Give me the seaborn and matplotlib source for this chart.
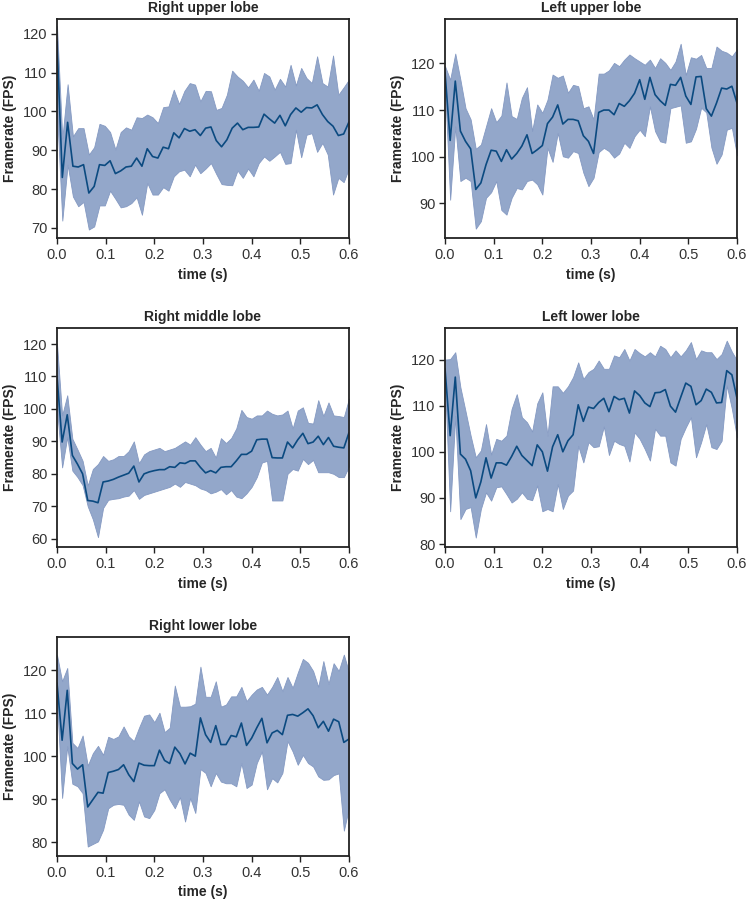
import matplotlib
matplotlib.use("Agg")
import matplotlib.pyplot as plt
import numpy as np
import pandas as pd
import seaborn as sns

sns.set_style("ticks")
plt.rcParams["font.family"] = ["Liberation Sans", "DejaVu Sans"]

titles = ["Right upper lobe", "Left upper lobe", "Right middle lobe",
          "Left lower lobe", "Right lower lobe"]

# Right upper lobe: mean framerate and band limits
rul_mean = [118, 83.0, 97.2, 85.9, 85.7, 86.3, 79.0, 80.7, 86.3, 86.1, 87.3, 84.0, 84.7, 85.7,
            85.9, 88.0, 85.9, 90.4, 88.4, 88.0, 90.8, 90.4, 94.5, 93.2, 95.6, 94.9, 95.3,
            93.8, 95.7, 96.0, 92.5, 90.9, 92.7, 95.7, 97.0, 95.3, 95.9, 95.9, 96.0, 99.3, 98.1,
            97.0, 99.0, 96.3, 99.2, 100.9, 99.8, 101.0, 100.9, 101.7, 99.2, 97.4, 96.2, 93.8,
            94.2, 97.3]
rul_hi = [122, 93.0, 107.0, 93.6, 95.7, 95.7, 88.9, 90.8, 96.8, 96.3, 94.7, 90.2, 94.7, 95.9,
          95.3, 98.5, 98.3, 99.2, 98.5, 97.0, 101.1, 101.3, 105.6, 101.9, 105.3, 107.3, 106.9,
          102.6, 105.3, 105.2, 100.4, 100.9, 104.3, 110.5, 109.0, 107.9, 106.2, 108.2, 105.3,
          109.9, 109.0, 105.6, 108.4, 106.4, 112.0, 106.7, 111.2, 108.6, 107.3, 114.2, 107.3,
          106.4, 114.4, 104.3, 106.2, 108.2]
rul_lo = [100, 71.9, 86.3, 78.1, 75.6, 76.7, 69.6, 70.4, 75.8, 75.8, 79.6, 77.5, 75.3, 75.6,
          76.4, 77.9, 73.4, 81.6, 78.6, 78.6, 80.5, 79.6, 83.3, 84.6, 85.0, 83.3, 86.3,
          84.1, 85.3, 86.7, 83.9, 81.3, 81.1, 81.0, 84.8, 82.9, 85.3, 83.3, 86.7, 88.4, 87.3,
          88.4, 89.6, 86.5, 86.7, 95.3, 88.2, 94.0, 94.4, 89.6, 91.9, 88.9, 78.6, 82.9, 81.8,
          85.4]

# Left upper lobe
lul_mean = [118, 103.5, 116.2, 105.5, 103.3, 101.7, 93.0, 94.4, 98.3, 101.4, 101.2, 99.0,
            101.5, 99.5, 100.7, 102.3, 104.7, 100.7, 101.5, 102.4, 107.1, 108.5, 111.1, 107.0,
            108.0, 108.0, 107.7, 104.5, 103.3, 100.7, 109.5, 110.0, 110.0, 109.0, 111.4, 110.8,
            112.0, 113.6, 116.5, 112.3, 117.0, 113.3, 112.0, 111.0, 115.5, 115.3, 117.0, 113.0,
            111.2, 117.1, 117.2, 110.3, 108.7, 111.5, 114.7, 114.5, 115.1, 111.5]
lul_hi = [119.4, 116.5, 122.1, 116.5, 110.4, 108.0, 101.7, 102.6, 106.5, 110.4, 107.4, 108.8,
          115.9, 108.7, 108.1, 112.6, 114.9, 105.5, 111.2, 109.4, 112.2, 117.6, 116.9, 117.4,
          113.7, 115.4, 115.1, 110.4, 110.8, 108.0, 117.8, 117.8, 118.5, 120.1, 119.4, 120.8,
          121.9, 121.1, 120.4, 119.7, 120.8, 119.0, 121.1, 120.1, 118.6, 120.4, 124.2, 117.5,
          121.3, 121.0, 121.8, 119.0, 119.0, 123.6, 122.7, 122.3, 121.5, 123.0]
lul_lo = [115, 90.8, 106.5, 94.8, 95.5, 94.8, 84.6, 86.2, 91.2, 92.4, 94.8, 88.6, 87.6, 91.2,
          93.3, 93.0, 94.8, 95.1, 94.1, 91.9, 101.9, 98.9, 105.1, 100.1, 99.8, 101.2, 100.8,
          96.6, 93.7, 95.5, 101.0, 101.9, 101.2, 99.8, 100.7, 103.0, 101.9, 104.4, 105.8,
          104.4, 110.8, 105.5, 103.3, 103.0, 110.4, 110.7, 111.0, 103.0, 103.3, 106.0, 110.5,
          109.5, 102.0, 98.5, 100.5, 105.8, 106.2, 100.3]

# Right middle lobe
rml_mean = [110, 89.8, 98.2, 85.7, 83.0, 80.0, 71.8, 71.6, 71.1, 77.5, 77.8, 78.3, 79.0, 79.6,
            80.2, 82.4, 77.5, 80.0, 80.6, 81.0, 81.3, 81.3, 82.2, 82.0, 83.4, 83.2, 84.0, 84.0,
            82.0, 80.3, 81.0, 80.3, 82.0, 82.2, 82.2, 84.0, 86.0, 86.0, 87.0, 90.5, 90.7, 90.7,
            85.0, 84.9, 84.9, 89.8, 88.0, 90.5, 92.5, 89.3, 89.8, 91.6, 89.0, 91.2, 88.5, 88.2,
            88.0, 92.7]
rml_hi = [120, 98.0, 104.2, 90.8, 87.5, 84.0, 76.4, 81.5, 83.0, 85.5, 84.0, 84.5, 85.5, 85.5,
          87.0, 90.0, 83.3, 86.0, 87.0, 87.5, 88.0, 87.0, 87.5, 88.0, 89.0, 90.0, 89.0, 91.3,
          89.0, 87.0, 88.0, 85.0, 91.0, 89.5, 91.0, 94.0, 99.7, 97.5, 97.0, 98.0, 98.0, 99.5,
          98.5, 98.0, 98.3, 99.5, 94.0, 99.5, 100.5, 95.7, 95.5, 102.7, 97.8, 102.0, 98.0, 97.8,
          97.5, 103.2]
rml_lo = [100, 82.0, 91.3, 81.0, 79.0, 76.5, 70.0, 66.0, 60.5, 69.5, 72.0, 72.3, 72.5, 73.0,
          73.3, 75.0, 72.3, 73.5, 74.0, 74.5, 75.0, 75.5, 76.0, 77.0, 76.0, 77.5, 77.0, 76.5,
          75.5, 75.0, 74.0, 74.5, 75.3, 73.7, 75.0, 73.0, 72.5, 74.0, 76.0, 79.0, 83.5, 84.0,
          71.8, 71.8, 71.8, 80.0, 81.5, 81.0, 84.6, 83.0, 84.3, 80.5, 80.5, 80.5, 80.0, 79.0,
          79.0, 82.3]

# Left lower lobe
lll_mean = [118, 103.5, 116.2, 99.5, 98.4, 95.9, 90.0, 93.5, 98.7, 94.3, 97.6, 97.6, 97.1, 99.0,
            101.2, 99.2, 98.1, 97.0, 101.5, 100.0, 95.8, 101.1, 103.7, 100.0, 102.4, 103.7,
            110.2, 106.6, 109.7, 109.4, 110.7, 111.6, 108.7, 112.0, 111.3, 111.6, 108.4, 113.2,
            112.2, 110.6, 109.8, 112.8, 112.9, 113.5, 109.9, 108.6, 111.8, 114.9, 114.2, 110.2,
            111.1, 113.6, 112.9, 110.6, 110.7, 117.6, 116.7, 111.6]
lll_hi = [120, 120.1, 121.6, 114.0, 108.8, 103.5, 98.8, 100.3, 106.0, 99.4, 102.8, 102.4, 103.5,
          109.3, 112.5, 107.5, 106.4, 104.4, 110.5, 112.9, 103.5, 114.2, 114.2, 112.8, 114.2,
          116.2, 119.4, 115.8, 117.3, 118.0, 119.8, 118.0, 118.0, 120.9, 120.5, 122.3, 119.8,
          122.3, 121.4, 120.7, 121.6, 120.7, 123.0, 122.3, 120.5, 122.0, 120.7, 122.0, 123.8,
          120.1, 122.0, 121.6, 121.6, 120.1, 121.2, 124.1, 121.7, 119.8]
lll_lo = [115, 87.1, 107.8, 85.4, 87.6, 88.0, 81.4, 87.6, 91.2, 89.4, 92.3, 92.5, 90.8, 89.0,
          89.8, 91.2, 89.8, 89.5, 92.7, 87.1, 87.6, 87.1, 93.0, 87.6, 90.5, 91.6, 101.3, 97.7,
          102.1, 101.0, 101.2, 105.5, 99.3, 102.4, 101.7, 101.3, 97.9, 104.2, 102.8, 100.6,
          98.1, 105.0, 103.5, 103.5, 97.7, 97.0, 102.8, 105.3, 107.5, 98.8, 102.1, 106.0, 101.0,
          100.6, 102.4, 114.4, 109.3, 103.1]

# Right lower lobe
rll_mean = [117, 103.7, 115.3, 98.3, 97.0, 98.0, 88.2, 89.9, 91.6, 91.4, 96.2, 96.5, 96.9, 98.0,
            95.7, 94.1, 98.4, 97.9, 97.8, 97.8, 101.4, 99.0, 98.3, 102.1, 100.6, 98.2, 100.7,
            100.0, 108.9, 105.0, 103.2, 107.1, 102.7, 102.7, 104.8, 104.5, 107.7, 102.5, 104.2,
            106.6, 108.8, 103.1, 105.4, 106.0, 105.0, 109.5, 109.7, 109.3, 110.1, 111.0, 109.4,
            106.6, 108.1, 105.8, 108.6, 108.0, 103.2, 104.0]
rll_hi = [123.5, 117.4, 120.5, 103.1, 101.9, 104.8, 97.8, 100.7, 102.4, 100.3, 104.5, 104.0,
          104.6, 106.9, 104.6, 103.5, 106.6, 109.4, 109.7, 107.9, 110.1, 105.6, 106.6, 116.4,
          111.5, 111.5, 111.6, 112.2, 120.8, 113.8, 113.8, 117.4, 111.5, 112.0, 113.9, 113.9,
          116.1, 112.8, 114.3, 115.5, 116.1, 114.3, 116.1, 118.4, 115.1, 118.4, 115.9, 119.4,
          122.6, 121.7, 119.8, 116.1, 122.1, 116.8, 121.6, 119.8, 123.6, 119.5]
rll_lo = [113, 90.3, 102.3, 93.6, 93.0, 91.4, 79.0, 79.6, 80.2, 82.9, 87.9, 88.7, 88.9, 88.7,
          86.4, 85.2, 89.5, 86.0, 85.6, 87.5, 91.4, 92.3, 89.9, 87.9, 90.5, 84.8, 90.3, 86.8,
          97.0, 96.1, 93.0, 96.1, 94.1, 93.7, 93.7, 93.0, 98.4, 92.6, 93.4, 98.4, 101.1, 92.3,
          94.9, 93.9, 96.1, 103.5, 101.1, 98.0, 100.3, 98.4, 97.6, 95.3, 94.5, 94.6, 95.6,
          96.0, 82.7, 88.0]

series = [(rul_mean, rul_lo, rul_hi), (lul_mean, lul_lo, lul_hi), (rml_mean, rml_lo, rml_hi),
          (lll_mean, lll_lo, lll_hi), (rll_mean, rll_lo, rll_hi)]
ylims = [(67.3, 123.8), (82.5, 129.5), (57.4, 125.0), (79.3, 126.9), (76.8, 127.8)]
yticks = [[70, 80, 90, 100, 110, 120], [90, 100, 110, 120], [60, 70, 80, 90, 100, 110, 120],
          [80, 90, 100, 110, 120], [80, 90, 100, 110, 120]]

line_color = "#0b4a80"
band_color = "#93a7ca"

fig, axs = plt.subplots(3, 2, figsize=(7.47, 9.02), dpi=100)
fig.subplots_adjust(left=57 / 747, right=737 / 747, top=1 - 19 / 902, bottom=46 / 902,
                    wspace=0.329, hspace=0.407)
axs[2, 1].remove()

for i, (title, (mean, lo, hi)) in enumerate(zip(titles, series)):
    ax = axs[i // 2, i % 2]
    t = np.linspace(0, 0.6, len(mean))
    df = pd.DataFrame({"time (s)": t, "Framerate (FPS)": mean})
    ax.fill_between(t, lo, hi, facecolor=band_color, edgecolor="#8499c2", linewidth=0.6)
    sns.lineplot(data=df, x="time (s)", y="Framerate (FPS)", ax=ax,
                 color=line_color, linewidth=1.2)
    ax.set_xlim(0, 0.6)
    ax.set_ylim(*ylims[i])
    ax.set_yticks(yticks[i])
    ax.set_xticks([0.0, 0.1, 0.2, 0.3, 0.4, 0.5, 0.6])
    ax.set_xticklabels(["0.0", "0.1", "0.2", "0.3", "0.4", "0.5", "0.6"])
    ax.set_title(title, fontsize=10, fontweight="bold", pad=5)
    ax.set_xlabel("time (s)", fontsize=10, fontweight="bold", labelpad=4)
    ax.set_ylabel("Framerate (FPS)", fontsize=10, fontweight="bold", labelpad=4)
    ax.tick_params(axis="both", labelsize=10.5, length=4, width=1, colors="#222222",
                   labelcolor="#333333", pad=3)
    for sp in ax.spines.values():
        sp.set_linewidth(1.3)
        sp.set_color("#222222")

fig.savefig("out.png", dpi=100)
